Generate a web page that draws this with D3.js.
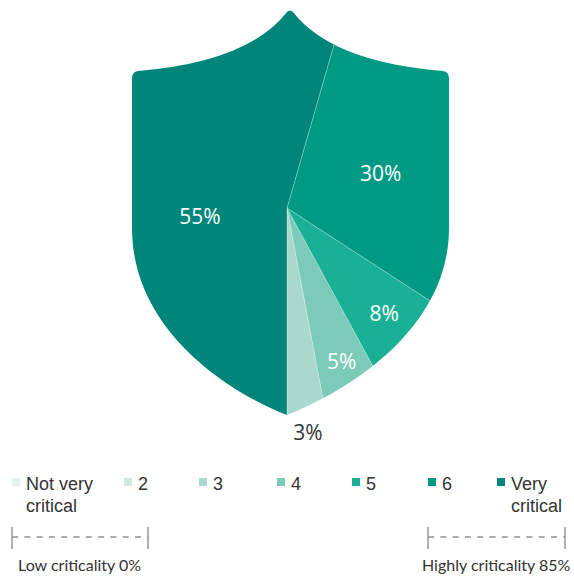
<!DOCTYPE html>
<html>
<head>
<meta charset="utf-8">
<script src="https://cdn.jsdelivr.net/npm/d3@7"></script>
<style>
  body { margin: 0; background: #fff; }
  svg { display: block; }
</style>
</head>
<body>
<div id="chart"></div>
<script>
// data
const categories = ["Not very critical", "2", "3", "4", "5", "6", "Very critical"];
const shares = [0, 0, 3, 5, 8, 30, 55];
const colors = ["#e3f2ec", "#d3ebdf", "#a9d9cd", "#7ccbb9", "#19b096", "#009a84", "#00857a"];
const scaleLabels = ["Low criticality 0%", "Highly criticality 85%"];

const w = 574, h = 578;
const cx = 287, cy = 208;

const svg = d3.select("#chart").append("svg")
    .attr("width", w)
    .attr("height", h);

// shield outline used as clip
const shield = d3.path();
shield.moveTo(287, 12);
shield.quadraticCurveTo(248, 62, 138, 71);
shield.quadraticCurveTo(132, 72, 132, 78);
shield.lineTo(132, 228);
shield.bezierCurveTo(132, 330, 228, 392, 287, 415);
shield.bezierCurveTo(346, 392, 449, 330, 449, 228);
shield.lineTo(449, 78);
shield.quadraticCurveTo(449, 72, 443, 71);
shield.quadraticCurveTo(332, 62, 293, 12);
shield.quadraticCurveTo(290, 9, 287, 12);
shield.closePath();

svg.append("defs").append("clipPath")
    .attr("id", "shield")
    .append("path")
    .attr("d", shield.toString());

const pie = d3.pie()
    .sort(null)
    .value(d => d)
    .startAngle(Math.PI)
    .endAngle(-Math.PI);

const arcs = pie(shares);
const arc = d3.arc().innerRadius(0).outerRadius(320);

const g = svg.append("g")
    .attr("clip-path", "url(#shield)")
    .append("g")
    .attr("transform", `translate(${cx},${cy})`);

g.selectAll("path")
    .data(arcs.filter(d => d.data > 0))
    .join("path")
    .attr("d", arc)
    .attr("fill", d => colors[d.index])
    .attr("stroke", "#ffffff")
    .attr("stroke-opacity", 0.3)
    .attr("stroke-width", 0.8);

// labels, radius picked per slice so they sit like the original
const labelR = {2: 225, 3: 163, 4: 143, 5: 100, 6: 88};
svg.append("g")
    .attr("transform", `translate(${cx},${cy})`)
    .selectAll("text")
    .data(arcs.filter(d => d.data > 0))
    .join("text")
    .attr("transform", d => {
        const r = labelR[d.index];
        const c = d3.arc().innerRadius(r).outerRadius(r).centroid(d);
        if (d.index === 6) c[1] = 8;
        return `translate(${c})`;
    })
    .attr("text-anchor", "middle")
    .attr("dy", "0.36em")
    .style("font-family", "'Open Sans', sans-serif")
    .style("font-size", "21px")
    .style("fill", d => d.index === 2 ? "#333333" : "#ffffff")
    .text(d => `${d.data}%`);

// legend
const legendPos = {"Not very critical": 12, "2": 124, "3": 199, "4": 277, "5": 352, "6": 428, "Very critical": 497};

const legend = svg.append("g").attr("transform", "translate(0,478)");
const item = legend.selectAll("g")
    .data(categories)
    .join("g")
    .attr("transform", d => `translate(${legendPos[d]},0)`);

item.append("rect")
    .attr("width", 8)
    .attr("height", 8)
    .attr("fill", (d, i) => colors[i]);

const splitLabel = d => {
    const p = d.split(" ");
    if (p.length > 2) return [p.slice(0, 2).join(" "), p.slice(2).join(" ")];
    return p;
};

item.append("text")
    .style("font-family", "'Liberation Sans', Arial, sans-serif")
    .style("font-size", "18px")
    .style("fill", "#333")
    .selectAll("tspan")
    .data(splitLabel)
    .join("tspan")
    .attr("x", 14)
    .attr("y", (d, i) => 12 + i * 22)
    .text(d => d);

// range brackets
const brackets = [[12, 148], [428, 565]];
const bg = svg.append("g");
brackets.forEach((b, i) => {
    const gb = bg.append("g");
    gb.append("line")
        .attr("x1", b[0]).attr("x2", b[1])
        .attr("y1", 537).attr("y2", 537)
        .attr("stroke", "#909090")
        .attr("stroke-width", 1.4)
        .attr("stroke-dasharray", "6,6.3");
    b.forEach(x => {
        gb.append("line")
            .attr("x1", x).attr("x2", x)
            .attr("y1", 527).attr("y2", 549)
            .attr("stroke", "#909090")
            .attr("stroke-width", 1.4);
    });
    gb.append("text")
        .attr("x", i === 0 ? 18 : 422)
        .attr("y", 571)
        .style("font-family", "Lato, sans-serif")
        .style("font-size", "16px")
        .style("fill", "#333")
        .text(scaleLabels[i]);
});
</script>
</body>
</html>
